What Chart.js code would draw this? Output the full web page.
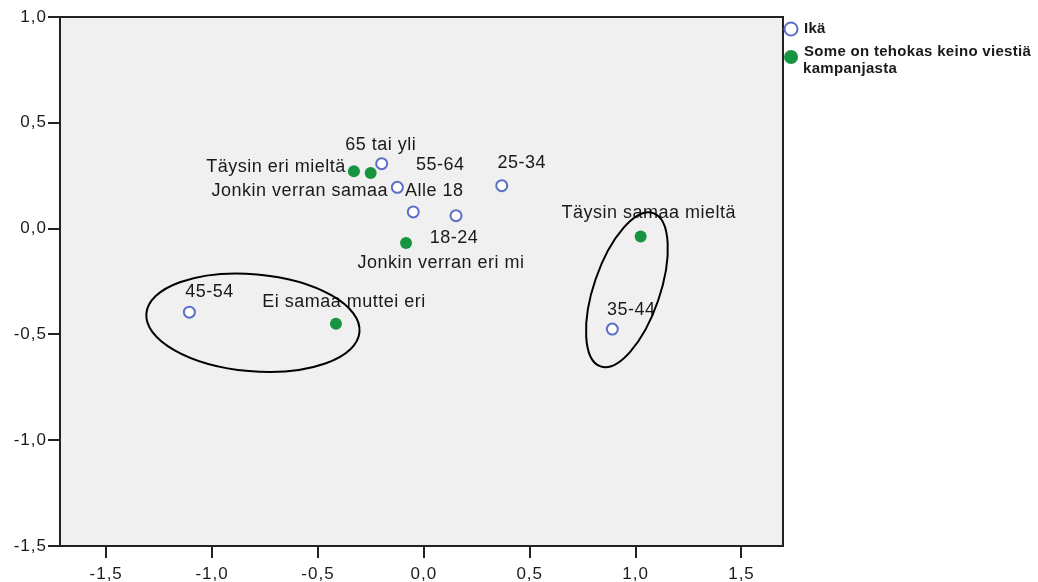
<!DOCTYPE html>
<html>
<head>
<meta charset="utf-8">
<script src="https://cdn.jsdelivr.net/npm/chart.js@4.4.1/dist/chart.umd.min.js"></script>
<style>
  html, body { margin: 0; padding: 0; background: #fff; }
  canvas { display: block; }
</style>
</head>
<body>
<canvas id="chart" width="1038" height="582"></canvas>
<script>
// Ikä (age groups)
const ageLabels = ['65 tai yli', '55-64', 'Alle 18', '18-24', '25-34', '45-54', '35-44'];
const ageX = [-0.199, -0.125, -0.050, 0.152, 0.368, -1.107, 0.890];
const ageY = [0.307, 0.195, 0.079, 0.061, 0.203, -0.395, -0.475];

// Some on tehokas keino viestiä kampanjasta
const opinionLabels = ['Täysin eri mieltä', 'Jonkin verran samaa', 'Jonkin verran eri mi', 'Ei samaa muttei eri', 'Täysin samaa mieltä'];
const opinionX = [-0.330, -0.251, -0.084, -0.415, 1.024];
const opinionY = [0.271, 0.263, -0.068, -0.450, -0.037];

const seriesNames = ['Ikä', 'Some on tehokas keino viestiä kampanjasta'];

// Axis ticks
const xTicks = [-1.5, -1.0, -0.5, 0.0, 0.5, 1.0, 1.5];
const yTicks = [-1.5, -1.0, -0.5, 0.0, 0.5, 1.0];

// Label placement (pixel offset from point to text centre)
const ageLabelOffsets = [[-1, -19], [43, -22], [21, -21], [-2, 22], [20, -23], [20, -20], [19, -19]];
const opinionLabelOffsets = [[-78, -4], [-71, 18], [35, 20], [8, -22], [8, -23]];

// Hand-drawn group ellipses (centre in data units, radii in axis units, rotation in degrees)
const ellipseCx = [-0.807, 0.959];
const ellipseCy = [-0.445, -0.289];
const ellipseRx = [0.505, 0.156];
const ellipseRy = [0.229, 0.383];
const ellipseRot = [5, 19];

const BLUE = '#5a70c6';
const GREEN = '#17943f';
const FONT = '"Liberation Sans", Arial, sans-serif';

const fmt = v => v.toFixed(1).replace('.', ',');

const plotDecor = {
    id: 'plotDecor',
    beforeDraw(chart) {
        const { ctx, chartArea: a } = chart;
        ctx.save();
        ctx.fillStyle = '#f0f0f0';
        ctx.fillRect(a.left, a.top, a.right - a.left, a.bottom - a.top);
        ctx.restore();
        // slightly wider tick text like the original
        ctx.letterSpacing = '1px';
    },
    beforeDatasetsDraw(chart) {
        const { ctx, chartArea: a } = chart;
        ctx.save();
        ctx.letterSpacing = '0px';
        ctx.strokeStyle = '#222';
        ctx.lineWidth = 2;
        ctx.strokeRect(a.left, a.top, a.right - a.left, a.bottom - a.top);
        ctx.restore();
    },
    afterDatasetsDraw(chart) {
        const { ctx } = chart;
        const xs = chart.scales.x;
        const ys = chart.scales.y;
        ctx.save();
        ctx.letterSpacing = '0.5px';
        ctx.font = '18px ' + FONT;
        ctx.fillStyle = '#1a1a1a';
        ctx.textAlign = 'center';
        ctx.textBaseline = 'middle';
        const drawLabels = (meta, labels, offsets) => {
            meta.data.forEach((pt, i) => {
                ctx.fillText(labels[i], pt.x + offsets[i][0], pt.y + offsets[i][1]);
            });
        };
        drawLabels(chart.getDatasetMeta(0), ageLabels, ageLabelOffsets);
        drawLabels(chart.getDatasetMeta(1), opinionLabels, opinionLabelOffsets);

        // ellipses
        const pxX = Math.abs(xs.getPixelForValue(1) - xs.getPixelForValue(0));
        const pxY = Math.abs(ys.getPixelForValue(1) - ys.getPixelForValue(0));
        ctx.strokeStyle = '#000';
        ctx.lineWidth = 2;
        for (let i = 0; i < ellipseCx.length; i++) {
            ctx.beginPath();
            ctx.ellipse(
                xs.getPixelForValue(ellipseCx[i]),
                ys.getPixelForValue(ellipseCy[i]),
                ellipseRx[i] * pxX,
                ellipseRy[i] * pxY,
                ellipseRot[i] * Math.PI / 180,
                0, Math.PI * 2
            );
            ctx.stroke();
        }
        ctx.restore();
    },
    afterDraw(chart) {
        const { ctx, chartArea: a } = chart;
        const lx = a.right + 8;
        ctx.save();
        ctx.letterSpacing = '0.3px';
        // Ikä marker
        ctx.beginPath();
        ctx.arc(lx, 29, 6.5, 0, Math.PI * 2);
        ctx.fillStyle = '#fff';
        ctx.fill();
        ctx.lineWidth = 2;
        ctx.strokeStyle = BLUE;
        ctx.stroke();
        // opinion marker
        ctx.beginPath();
        ctx.arc(lx, 57, 7, 0, Math.PI * 2);
        ctx.fillStyle = GREEN;
        ctx.fill();

        ctx.fillStyle = '#1a1a1a';
        ctx.font = 'bold 15px ' + FONT;
        ctx.textAlign = 'left';
        ctx.textBaseline = 'middle';
        ctx.fillText(seriesNames[0], lx + 13, 29);
        const words = seriesNames[1].split(' ');
        ctx.fillText(words.slice(0, 5).join(' '), lx + 13, 52);
        ctx.fillText(words.slice(5).join(' '), lx + 12, 69);
        ctx.restore();
    }
};

const ctx = document.getElementById('chart');

new Chart(ctx, {
    type: 'scatter',
    data: {
        datasets: [
            {
                label: seriesNames[0],
                data: ageX.map((x, i) => ({ x: x, y: ageY[i] })),
                pointRadius: 5.5,
                pointBorderWidth: 2,
                borderColor: BLUE,
                backgroundColor: '#ffffff',
            },
            {
                label: seriesNames[1],
                data: opinionX.map((x, i) => ({ x: x, y: opinionY[i] })),
                pointRadius: 6,
                pointBorderWidth: 0,
                borderColor: GREEN,
                backgroundColor: GREEN,
            },
        ],
    },
    options: {
        responsive: false,
        animation: false,
        events: [],
        layout: {
            padding: { top: 17, right: 255, bottom: 0, left: 0 },
        },
        plugins: {
            legend: { display: false },
            tooltip: { enabled: false },
        },
        scales: {
            x: {
                type: 'linear',
                min: -1.718,
                max: 1.696,
                afterBuildTicks: scale => { scale.ticks = xTicks.map(v => ({ value: v })); },
                afterFit: scale => { scale.height = 36; },
                border: { display: false },
                grid: {
                    drawOnChartArea: false,
                    drawTicks: true,
                    tickLength: 12,
                    color: '#222',
                    lineWidth: 2,
                },
                ticks: {
                    callback: v => fmt(v),
                    color: '#1a1a1a',
                    padding: 6,
                    maxRotation: 0,
                    font: { family: FONT, size: 17 },
                },
            },
            y: {
                type: 'linear',
                min: -1.5,
                max: 1.0,
                afterBuildTicks: scale => { scale.ticks = yTicks.map(v => ({ value: v })); },
                afterFit: scale => { scale.width = 60; },
                border: { display: false },
                grid: {
                    drawOnChartArea: false,
                    drawTicks: true,
                    tickLength: 12,
                    color: '#222',
                    lineWidth: 2,
                },
                ticks: {
                    callback: v => fmt(v),
                    color: '#1a1a1a',
                    padding: 1,
                    font: { family: FONT, size: 17 },
                },
            },
        },
    },
    plugins: [plotDecor],
});
</script>
</body>
</html>
